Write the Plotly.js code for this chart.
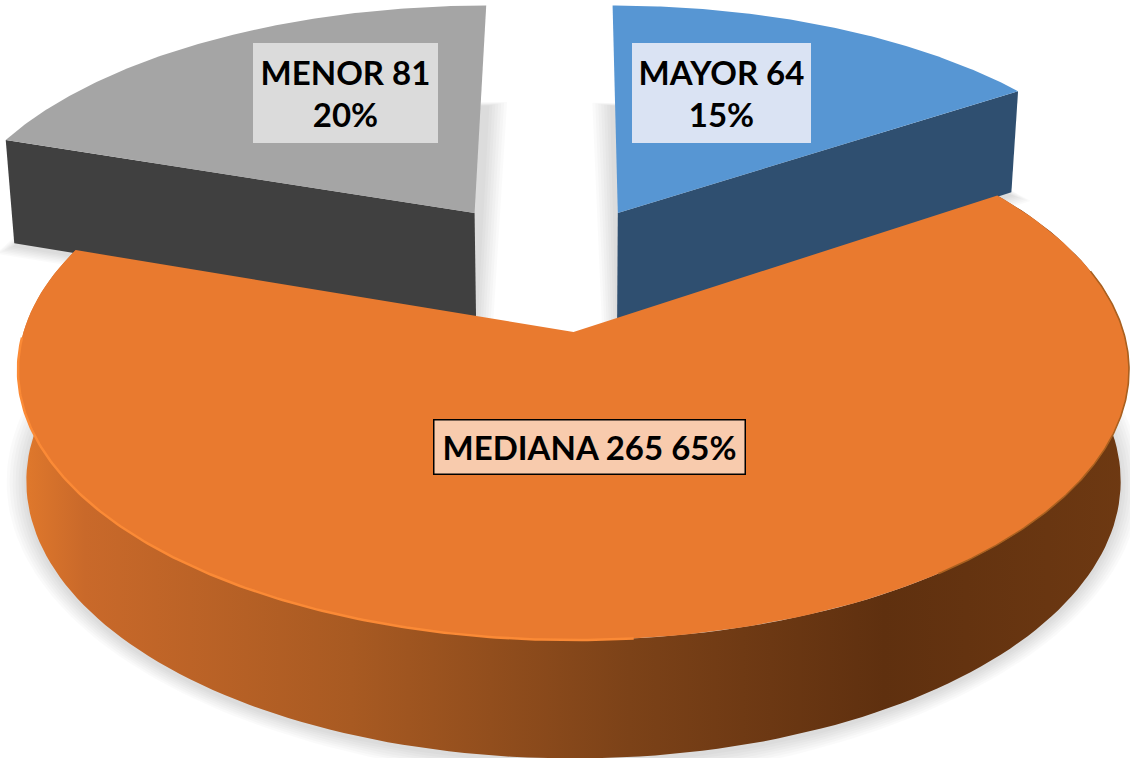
<!DOCTYPE html>
<html>
<head>
<meta charset="utf-8">
<script src="https://cdn.plot.ly/plotly-3.0.1.min.js"></script>
<style>html,body{margin:0;padding:0;background:#fff}#c{width:1130px;height:758px}</style>
</head>
<body>
<div id="c"></div>
<script>
const categories = ["MAYOR", "MEDIANA", "MENOR"];
const values = [64, 265, 81];
const percentLabels = ["15%", "65%", "20%"];
const topColors = ["#5796D3", "#E97A2F", "#A5A5A5"];
const wallColors = ["#2F4F70", "#7A4016", "#404040"];
const labelFills = ["#DAE3F3", "#F8CBAD", "#DBDBDB"];
const labelLines = [categories[0] + " " + values[0] + "<br>" + percentLabels[0],
                    categories[1] + " " + values[1] + " " + percentLabels[1],
                    categories[2] + " " + values[2] + "<br>" + percentLabels[2]];
const explodeU = [0.086, 0, -0.192];
const explodeV = [0.48, 0, 0.48];
const sliceRadius = [1.012, 1, 1.012];
const labelX = [721.5, 589, 345.5];
const labelY = [93, 446.5, 93];
const labelW = [179, 310, 185];
const labelH = [100, 53, 100];

// Projection of the tilted pie disc on to the page
const CX = 573.5, CY = 332, A = 550, Q = 218, K = 0.1407;
function project(u, v, low) {
  const w = 1 + K * v;
  let x = A * u / w, y = (CY - Q * v) / w;
  if (low) { x *= 0.985; y += 110 - 8.5 * v; }
  return [CX + x, y];
}
const total = values.reduce((a, b) => a + b, 0);
let running = 0;
const slices = values.map((val, i) => {
  const a0 = running / total * 2 * Math.PI;
  running += val;
  return {i, a0, a1: running / total * 2 * Math.PI};
});
function rim(s, t, low) {
  const r = sliceRadius[s.i];
  return project(explodeU[s.i] + r * Math.sin(t), explodeV[s.i] + r * Math.cos(t), low);
}
function arc(s, low, a0, a1) {
  const pts = [], n = 160;
  const from = a0 === undefined ? s.a0 : a0, to = a1 === undefined ? s.a1 : a1;
  for (let k = 0; k <= n; k++) pts.push(rim(s, from + (to - from) * k / n, low));
  return pts;
}
function apex(s, low) { return project(explodeU[s.i], explodeV[s.i], low); }
function poly(pts, color, name, extra) {
  return Object.assign({
    type: "scatter", mode: "lines", x: pts.map(p => p[0]), y: pts.map(p => p[1]),
    fill: "toself", fillcolor: color, line: {width: 0, color: color},
    hoverinfo: "skip", showlegend: false, name: name
  }, extra || {});
}
function line(pts, color, width, name) {
  return {type: "scatter", mode: "lines", x: pts.map(p => p[0]), y: pts.map(p => p[1]),
    line: {color: color, width: width}, hoverinfo: "skip", showlegend: false, name: name};
}
function expand(pts, e, dy) {
  const cx = pts.reduce((a, p) => a + p[0], 0) / pts.length;
  const cy = pts.reduce((a, p) => a + p[1], 0) / pts.length;
  return pts.map(p => {
    const dx = p[0] - cx, d = p[1] - cy, l = Math.hypot(dx, d) || 1;
    return [p[0] + dx / l * e, p[1] + d / l * e + dy];
  });
}
const traces = [];
// soft shadows beneath the floor of each slice
slices.forEach(s => {
  const base = [apex(s, true)].concat(arc(s, true));
  base.push(apex(s, true));
  for (let e = 20; e >= 2; e -= 3) {
    traces.push(poly(expand(base, e, 3), "rgba(0,0,0,0.02)", "shadow " + categories[s.i]));
  }
});
function wall(s, gradient) {
  const top = arc(s, false), low = arc(s, true).reverse();
  return poly(top.concat(low), wallColors[s.i], categories[s.i] + " wall", gradient);
}
function cut(s, angle) {
  return poly([apex(s, false), rim(s, angle, false), rim(s, angle, true), apex(s, true)],
              wallColors[s.i], categories[s.i] + " cut");
}
function face(s) {
  return poly([apex(s, false)].concat(arc(s, false)), topColors[s.i], categories[s.i]);
}
const [sMayor, sMediana, sMenor] = slices;
traces.push(cut(sMenor, sMenor.a0), face(sMenor));
traces.push(cut(sMayor, sMayor.a1), face(sMayor));
traces.push(wall(sMediana, {
  fillgradient: {type: "horizontal", colorscale: [
    [0, "#E27A2C"], [0.06, "#C9692A"], [0.3, "#A85A22"], [0.55, "#7C4218"], [0.78, "#5F300F"], [1, "#6E3912"]
  ]}
}));
traces.push(face(sMediana));
// lit rim along the front-left edge and dark rim on the right
traces.push(line(arc(sMediana, false, Math.PI * 0.97, sMediana.a1 - 0.35), "#FB8A36", 2.5, "rim light"));
traces.push(line(arc(sMediana, false, sMediana.a0 + 0.35, Math.PI * 0.8), "#A9601F", 1.6, "rim dark"));

const annotations = slices.map(s => ({
  xref: "x", yref: "y", x: labelX[s.i], y: labelY[s.i],
  text: "<b>" + labelLines[s.i] + "</b>", showarrow: false,
  width: labelW[s.i], height: labelH[s.i], bgcolor: labelFills[s.i],
  borderpad: 0, borderwidth: s.i === 1 ? 1.5 : 0, bordercolor: "#000",
  font: {family: "Lato, Carlito, sans-serif", size: 33, color: "#000"},
  align: "center", valign: "middle"
}));

Plotly.newPlot("c", traces, {
  width: 1130, height: 758, margin: {l: 0, r: 0, t: 0, b: 0},
  paper_bgcolor: "#fff", plot_bgcolor: "#fff", showlegend: false,
  xaxis: {range: [0, 1130], visible: false, fixedrange: true},
  yaxis: {range: [758, 0], visible: false, fixedrange: true},
  annotations: annotations
}, {displayModeBar: false, staticPlot: true});
</script>
</body>
</html>
